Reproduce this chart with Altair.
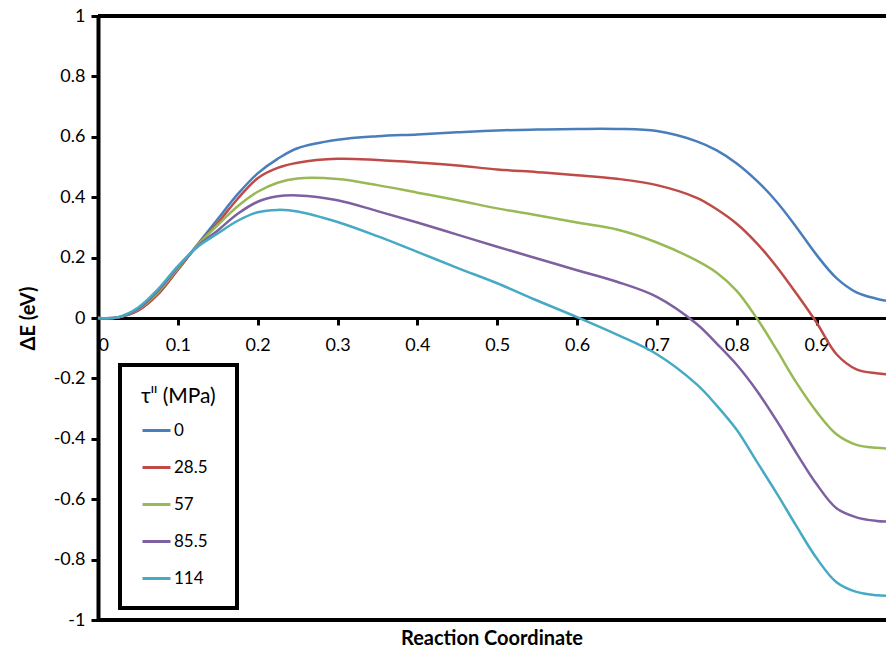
import altair as alt
import pandas as pd

xs = [0, 0.025, 0.05, 0.075, 0.1, 0.125, 0.15, 0.175, 0.2, 0.225, 0.25, 0.3, 0.35, 0.4,
      0.45, 0.5, 0.55, 0.6, 0.65, 0.7, 0.75, 0.775, 0.8, 0.825, 0.85, 0.875, 0.9, 0.925,
      0.95, 0.975, 0.987]

tau_0 = [0, 0.002, 0.025, 0.08, 0.160, 0.245, 0.328, 0.41, 0.479, 0.527, 0.562, 0.59,
         0.602, 0.608, 0.615, 0.621, 0.624, 0.626, 0.626, 0.619, 0.585, 0.555, 0.512,
         0.455, 0.385, 0.30, 0.209, 0.132, 0.085, 0.064, 0.057]
tau_28_5 = [0, 0.002, 0.024, 0.078, 0.160, 0.242, 0.315, 0.395, 0.463, 0.497, 0.514,
            0.527, 0.523, 0.515, 0.505, 0.492, 0.483, 0.473, 0.461, 0.44, 0.398, 0.36,
            0.312, 0.248, 0.17, 0.08, -0.015, -0.12, -0.17, -0.183, -0.186]
tau_57 = [0, 0.002, 0.028, 0.085, 0.165, 0.242, 0.308, 0.37, 0.418, 0.448, 0.462, 0.46,
          0.44, 0.415, 0.39, 0.363, 0.34, 0.316, 0.293, 0.25, 0.19, 0.15, 0.09, 0.0,
          -0.105, -0.215, -0.31, -0.385, -0.42, -0.43, -0.432]
tau_85_5 = [0, 0.002, 0.03, 0.09, 0.168, 0.238, 0.29, 0.345, 0.385, 0.403, 0.406, 0.39,
            0.354, 0.316, 0.276, 0.236, 0.197, 0.158, 0.12, 0.07, -0.02, -0.085, -0.155,
            -0.24, -0.34, -0.448, -0.55, -0.63, -0.66, -0.672, -0.674]
tau_114 = [0, 0.003, 0.034, 0.095, 0.172, 0.236, 0.28, 0.322, 0.35, 0.358, 0.353, 0.318,
           0.271, 0.219, 0.166, 0.115, 0.058, 0.003, -0.055, -0.12, -0.22, -0.29, -0.37,
           -0.475, -0.58, -0.69, -0.795, -0.875, -0.907, -0.918, -0.92]

series_names = ["0", "28.5", "57", "85.5", "114"]
series_values = [tau_0, tau_28_5, tau_57, tau_85_5, tau_114]
colors = ["#4A7EBB", "#BE4B48", "#98B954", "#7D60A0", "#46AAC5"]

x_ticks = [0, 0.1, 0.2, 0.3, 0.4, 0.5, 0.6, 0.7, 0.8, 0.9]
y_ticks = [1, 0.8, 0.6, 0.4, 0.2, 0, -0.2, -0.4, -0.6, -0.8, -1]
frame_y = [1, -1]

rows = []
for name, vals in zip(series_names, series_values):
    for x, y in zip(xs, vals):
        rows.append({"x": x, "y": y, "tau": name})
df = pd.DataFrame(rows)

FONT = "Lato"

x_scale = alt.Scale(domain=[0, 0.987], nice=False)
y_scale = alt.Scale(domain=[-1, 1], nice=False)

lines = alt.Chart(df).mark_line(strokeWidth=2.5, interpolate="catmull-rom").encode(
    x=alt.X("x:Q", scale=x_scale,
            axis=alt.Axis(values=x_ticks, title=None, offset=-302, grid=False,
                          domainColor="black", domainWidth=3, tickColor="black",
                          tickWidth=3, tickSize=7, labelFontSize=18, labelFont=FONT,
                          labelColor="black", labelPadding=11,
                          labelExpr="'' + datum.value")),
    y=alt.Y("y:Q", scale=y_scale,
            axis=alt.Axis(values=y_ticks, title="ΔE (eV)", grid=False,
                          domainColor="black", domainWidth=4, tickColor="black",
                          tickWidth=3, tickSize=7, labelFontSize=18, labelFont=FONT,
                          labelColor="black", labelPadding=6,
                          labelExpr="'' + datum.value",
                          titleFont=FONT, titleFontSize=20, titleFontWeight="bold",
                          titleColor="black", titlePadding=15)),
    color=alt.Color("tau:N", sort=series_names,
                    scale=alt.Scale(domain=series_names, range=colors),
                    legend=alt.Legend(title="τˡˡ (MPa)", orient="none",
                                      legendX=22, legendY=349,
                                      symbolType="stroke", symbolSize=784,
                                      symbolStrokeWidth=3, labelFont=FONT,
                                      labelFontSize=17, labelColor="black",
                                      titleFont=FONT, titleFontSize=21,
                                      titleFontWeight="normal", titleColor="black",
                                      rowPadding=13, padding=21, titlePadding=8,
                                      strokeColor="black", labelOffset=2)),
)

frame = alt.Chart(pd.DataFrame({"y": frame_y})).mark_rule(
    color="black", strokeWidth=4
).encode(y=alt.Y("y:Q", scale=y_scale))

chart = alt.layer(lines, frame).properties(
    width=788, height=604,
    autosize=alt.AutoSizeParams(type="none"),
    padding={"left": 98, "top": 16, "right": 0, "bottom": 29},
    title=alt.TitleParams("Reaction Coordinate", orient="bottom", font=FONT,
                          fontSize=20, fontWeight="bold", color="black", offset=0),
).configure_view(stroke=None).configure_legend(strokeWidth=4)

chart.save("out.html", embed_options={"renderer": "svg", "actions": False})
